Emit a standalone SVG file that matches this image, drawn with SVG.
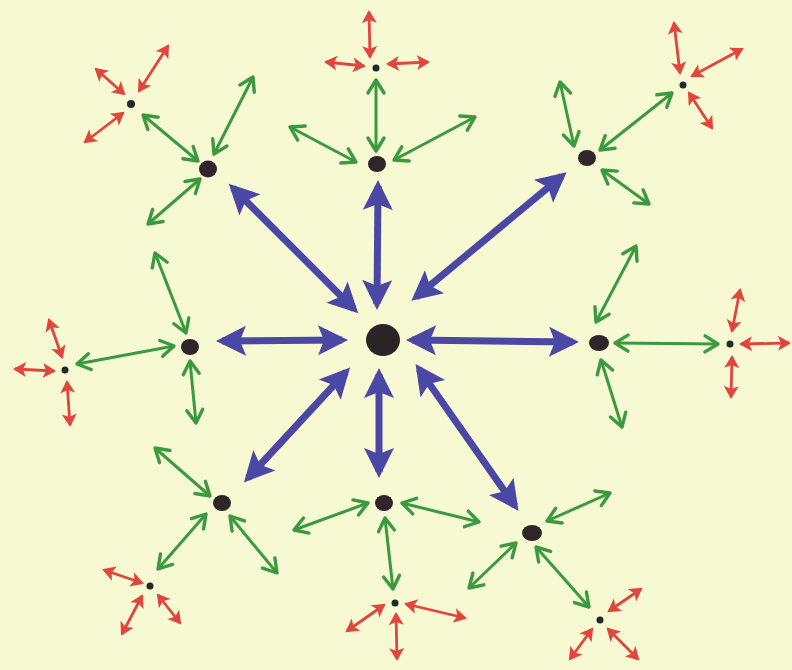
<svg xmlns="http://www.w3.org/2000/svg" width="792" height="670" viewBox="0 0 792 670">
<style>
.bg{fill:#f7f9d3}
.blue{stroke:#4a47a5;stroke-width:7;fill:none;marker-start:url(#hb);marker-end:url(#hb)}
.green{stroke:#3b9a3f;stroke-width:3;fill:none;marker-start:url(#hg);marker-end:url(#hg)}
.red{stroke:#e0463d;stroke-width:2.8;fill:none;marker-start:url(#hr);marker-end:url(#hr)}
.hub{fill:#2b2426}
.n1{fill:#2e2628}
.n2{fill:#1f2a2a}
</style>
<defs>
<marker id="hb" markerUnits="userSpaceOnUse" orient="auto-start-reverse" refX="0" refY="0" markerWidth="40" markerHeight="40" overflow="visible">
<path d="M-24,-15 L6,0 L-24,15 L-18,0 Z" fill="#4a47a5"/>
</marker>
<marker id="hg" markerUnits="userSpaceOnUse" orient="auto-start-reverse" refX="0" refY="0" markerWidth="30" markerHeight="30" overflow="visible">
<path d="M-13,-8 L0,0 L-13,8" fill="none" stroke="#3b9a3f" stroke-width="3.4" stroke-linecap="round" stroke-linejoin="round"/>
</marker>
<marker id="hr" markerUnits="userSpaceOnUse" orient="auto-start-reverse" refX="0" refY="0" markerWidth="30" markerHeight="30" overflow="visible">
<path d="M-11,-7.5 L2,0 L-11,7.5 L-8,0 Z" fill="#e0463d"/>
</marker>
</defs>
<rect class="bg" x="0" y="0" width="792" height="670"/>
<g id="connectors">
<!-- blue: hub to level-1 -->
<line class="blue" x1="354" y1="309" x2="233" y2="188"/>
<line class="blue" x1="377" y1="304" x2="378" y2="186"/>
<line class="blue" x1="416" y1="297" x2="562" y2="176"/>
<line class="blue" x1="412" y1="340" x2="573" y2="342"/>
<line class="blue" x1="419" y1="369" x2="515" y2="506"/>
<line class="blue" x1="379" y1="374" x2="379" y2="472"/>
<line class="blue" x1="346" y1="372" x2="248" y2="478"/>
<line class="blue" x1="342" y1="340" x2="222" y2="341"/>
<!-- green around N1 -->
<line class="green" x1="143" y1="115" x2="198" y2="161"/>
<line class="green" x1="214" y1="154" x2="253" y2="77"/>
<line class="green" x1="200" y1="179" x2="148" y2="224"/>
<!-- N2 -->
<line class="green" x1="376" y1="80" x2="376" y2="151"/>
<line class="green" x1="290" y1="127" x2="356" y2="162"/>
<line class="green" x1="394" y1="160" x2="475" y2="117"/>
<!-- N3 -->
<line class="green" x1="560" y1="82" x2="574" y2="146"/>
<line class="green" x1="600" y1="150" x2="672" y2="93"/>
<line class="green" x1="602" y1="170" x2="649" y2="204"/>
<!-- N4 -->
<line class="green" x1="636" y1="246" x2="596" y2="322"/>
<line class="green" x1="615" y1="343" x2="718" y2="344"/>
<line class="green" x1="601" y1="360" x2="622" y2="427"/>
<!-- N5 -->
<line class="green" x1="547" y1="521" x2="610" y2="493"/>
<line class="green" x1="516" y1="543" x2="469" y2="588"/>
<line class="green" x1="536" y1="547" x2="589" y2="607"/>
<!-- N6 -->
<line class="green" x1="294" y1="530" x2="368" y2="503"/>
<line class="green" x1="402" y1="503" x2="479" y2="522"/>
<line class="green" x1="385" y1="518" x2="393" y2="589"/>
<!-- N7 -->
<line class="green" x1="155" y1="448" x2="210" y2="496"/>
<line class="green" x1="206" y1="514" x2="158" y2="569"/>
<line class="green" x1="230" y1="516" x2="277" y2="573"/>
<!-- N8 -->
<line class="green" x1="77" y1="364" x2="174" y2="346"/>
<line class="green" x1="155" y1="253" x2="186" y2="333"/>
<line class="green" x1="190" y1="361" x2="196" y2="423"/>
<!-- red around R1 -->
<line class="red" x1="96" y1="69" x2="124" y2="94"/>
<line class="red" x1="139" y1="91" x2="168" y2="46"/>
<line class="red" x1="123" y1="113" x2="85" y2="142"/>
<!-- R2 -->
<line class="red" x1="369" y1="12" x2="370" y2="57"/>
<line class="red" x1="326" y1="62" x2="364" y2="66"/>
<line class="red" x1="388" y1="64" x2="428" y2="62"/>
<!-- R3 -->
<line class="red" x1="674" y1="23" x2="680" y2="73"/>
<line class="red" x1="692" y1="76" x2="742" y2="49"/>
<line class="red" x1="689" y1="93" x2="712" y2="128"/>
<!-- R4 -->
<line class="red" x1="740" y1="290" x2="732" y2="331"/>
<line class="red" x1="741" y1="344" x2="789" y2="343"/>
<line class="red" x1="732" y1="357" x2="731" y2="397"/>
<!-- R5 -->
<line class="red" x1="609" y1="611" x2="641" y2="589"/>
<line class="red" x1="592" y1="629" x2="570" y2="659"/>
<line class="red" x1="608" y1="629" x2="638" y2="659"/>
<!-- R6 -->
<line class="red" x1="384" y1="605" x2="347" y2="631"/>
<line class="red" x1="406" y1="604" x2="465" y2="618"/>
<line class="red" x1="396" y1="614" x2="397" y2="659"/>
<!-- R7 -->
<line class="red" x1="104" y1="570" x2="142" y2="583"/>
<line class="red" x1="142" y1="596" x2="122" y2="634"/>
<line class="red" x1="158" y1="595" x2="180" y2="623"/>
<!-- R8 -->
<line class="red" x1="49" y1="320" x2="62" y2="357"/>
<line class="red" x1="54" y1="371" x2="15" y2="369"/>
<line class="red" x1="67" y1="382" x2="70" y2="425"/>
</g>
<g id="hub"><ellipse class="hub" cx="383" cy="340" rx="17" ry="16"/></g>
<g id="n1"><ellipse class="n1" cx="208" cy="169" rx="9" ry="8.5"/></g>
<g id="n2"><ellipse class="n1" cx="377" cy="164" rx="9" ry="8"/></g>
<g id="n3"><ellipse class="n1" cx="587" cy="158" rx="9" ry="8"/></g>
<g id="n4"><ellipse class="n1" cx="599" cy="343" rx="10" ry="8"/></g>
<g id="n5"><ellipse class="n1" cx="532" cy="533" rx="10" ry="8"/></g>
<g id="n6"><ellipse class="n1" cx="384" cy="503" rx="9" ry="8"/></g>
<g id="n7"><ellipse class="n1" cx="222" cy="503" rx="9" ry="8"/></g>
<g id="n8"><ellipse class="n1" cx="190" cy="347" rx="9" ry="8"/></g>
<g id="r1"><circle class="n2" cx="131" cy="104" r="4"/></g>
<g id="r2"><circle class="n2" cx="376" cy="68" r="3.5"/></g>
<g id="r3"><circle class="n2" cx="683" cy="85" r="3.5"/></g>
<g id="r4"><circle class="n2" cx="730" cy="344" r="3.5"/></g>
<g id="r5"><circle class="n2" cx="600" cy="620" r="3.5"/></g>
<g id="r6"><circle class="n2" cx="395" cy="603" r="3.5"/></g>
<g id="r7"><circle class="n2" cx="150" cy="586" r="3.5"/></g>
<g id="r8"><circle class="n2" cx="65" cy="370" r="3.5"/></g>
</svg>
